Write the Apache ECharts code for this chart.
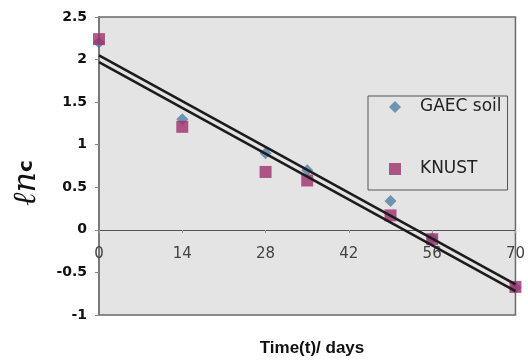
<!DOCTYPE html>
<html>
<head>
<meta charset="utf-8">
<script src="https://cdn.jsdelivr.net/npm/echarts@6/dist/echarts.min.js"></script>
<style>
  html, body { margin: 0; padding: 0; background: #ffffff; }
  #chart { width: 528px; height: 363px; }
</style>
</head>
<body>
<div id="chart"></div>
<script>
// ---- data ----
const days = [0, 14, 28, 35, 49, 56, 70];
const gaecSoil = [2.2, 1.3, 0.9, 0.7, 0.34, -0.1, -0.68];
const knustSoil = [2.24, 1.21, 0.68, 0.58, 0.17, -0.11, -0.67];
const trendDays = [0, 70];
const trendGaec = [2.05, -0.64];
const trendKnust = [1.97, -0.72];
const xTicks = [0, 14, 28, 42, 56, 70];
const yTicks = [-1, -0.5, 0, 0.5, 1, 1.5, 2, 2.5];
const seriesNames = ['GAEC soil', 'KNUST soil'];
const xTitle = 'Time(t)/ days';

const pair = (xs, ys) => xs.map((x, i) => [x, ys[i]]);

const chart = echarts.init(document.getElementById('chart'), null, { renderer: 'canvas' });
chart.setOption({
  animation: false,
  backgroundColor: '#ffffff',
  grid: {
    left: 99, right: 9, top: 17, bottom: 48,
    show: true, backgroundColor: '#e4e4e4',
    borderColor: '#6a6a6a', borderWidth: 1.5
  },
  xAxis: {
    type: 'value',
    min: xTicks[0], max: xTicks[xTicks.length - 1], interval: 14,
    offset: -85,
    axisLine: { onZero: false, lineStyle: { color: '#555', width: 1 } },
    axisTick: { show: true, inside: false, length: 3, lineStyle: { color: '#999' } },
    axisLabel: { color: '#444', fontFamily: 'DejaVu Sans', fontSize: 15, margin: 17 },
    splitLine: { show: false }
  },
  yAxis: {
    type: 'value',
    min: yTicks[0], max: yTicks[yTicks.length - 1], interval: 0.5,
    axisLine: { show: true, onZero: false, lineStyle: { color: '#7a7a7a', width: 2 } },
    axisTick: { show: true, length: 4, lineStyle: { color: '#888' } },
    axisLabel: { color: '#111', fontFamily: 'DejaVu Sans', fontWeight: 'bold', fontSize: 14, margin: 12 },
    splitLine: { show: false }
  },
  legend: {
    orient: 'vertical',
    left: 368, top: 96,
    padding: [1, 6, 11, 21],
    itemWidth: 12, itemHeight: 12, itemGap: 42,
    backgroundColor: '#e4e4e4',
    borderColor: '#555', borderWidth: 1,
    borderRadius: 0,
    data: seriesNames,
    formatter: name => name === 'KNUST soil' ? 'KNUST' : name,
    textStyle: { fontFamily: 'DejaVu Sans', fontSize: 17, lineHeight: 20, color: '#222', padding: [0, 0, 0, 14] }
  },
  series: [
    {
      name: seriesNames[0], type: 'scatter', symbol: 'diamond', symbolSize: 12,
      itemStyle: { color: '#4f7fa6' }, clip: false, z: 3,
      data: pair(days, gaecSoil)
    },
    {
      name: seriesNames[1], type: 'scatter', symbol: 'rect', symbolSize: 12,
      itemStyle: { color: '#9e2f6c' }, clip: false, z: 4,
      data: pair(days, knustSoil)
    },
    {
      name: 'trend GAEC', type: 'line', showSymbol: false, symbol: 'none', z: 6,
      lineStyle: { color: '#1c1c1c', width: 2.6 }, silent: true,
      data: pair(trendDays, trendGaec)
    },
    {
      name: 'trend KNUST', type: 'line', showSymbol: false, symbol: 'none', z: 6,
      lineStyle: { color: '#1c1c1c', width: 2.6 }, silent: true,
      data: pair(trendDays, trendKnust)
    }
  ],
  graphic: [
    {
      type: 'text', x: 312, y: 348,
      style: {
        text: xTitle, fill: '#111',
        font: 'bold 17px "Liberation Sans", Arial, sans-serif',
        align: 'center', verticalAlign: 'middle'
      }
    },
    {
      type: 'text', x: 27, y: 183, rotation: Math.PI / 2,
      style: {
        text: '{a|ℓn}{b|c}',
        align: 'center', verticalAlign: 'middle',
        rich: {
          a: { fontFamily: 'DejaVu Serif', fontStyle: 'italic', fontSize: 32, fill: '#111' },
          b: { fontFamily: 'DejaVu Sans', fontWeight: 'bold', fontSize: 20, fill: '#111' }
        }
      }
    }
  ]
});
</script>
</body>
</html>
